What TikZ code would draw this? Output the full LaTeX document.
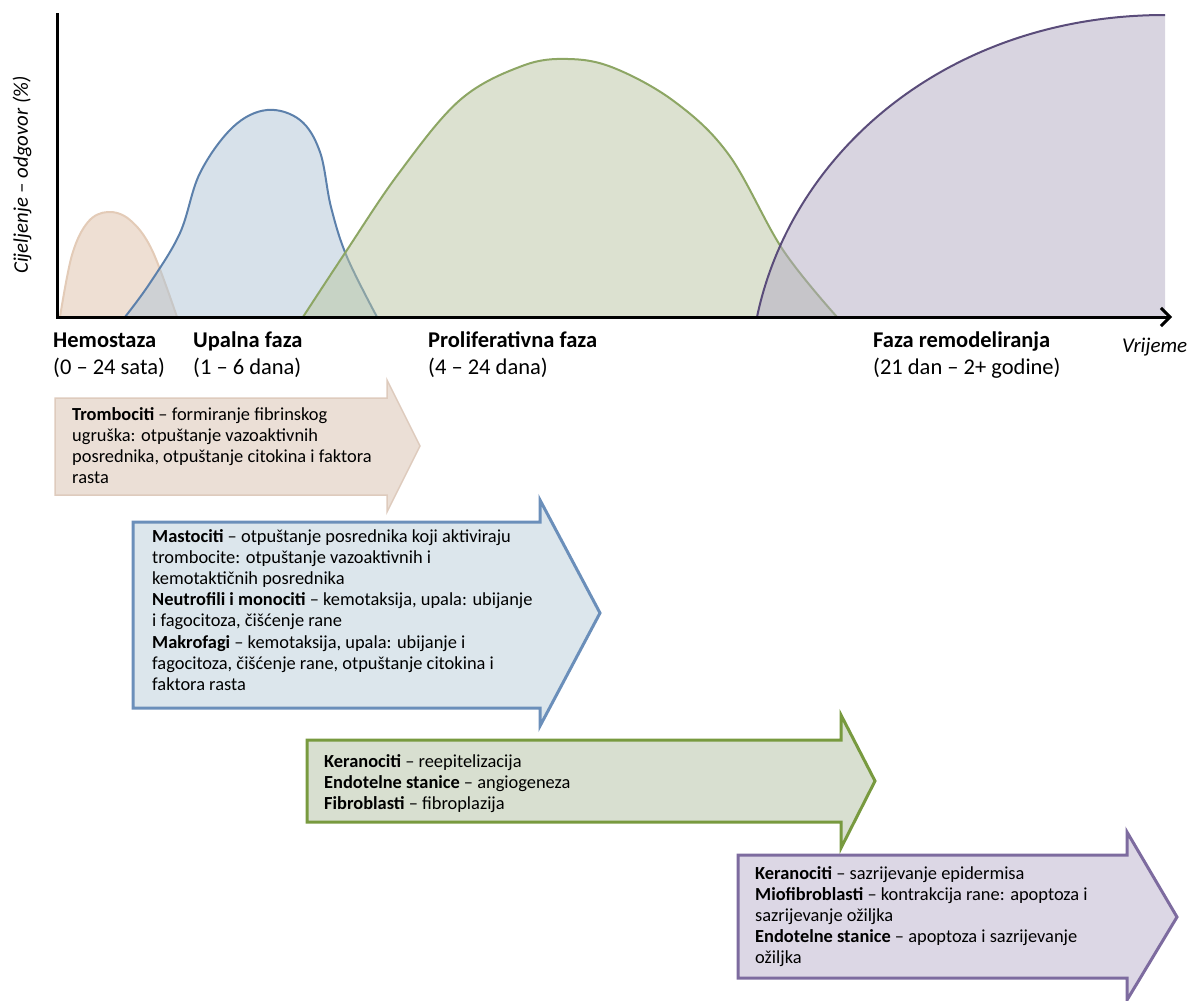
\documentclass[tikz,border=0pt]{standalone}
\usepackage{fontspec}
\setmainfont{Carlito}
\usetikzlibrary{arrows.meta}
\definecolor{tanline}{HTML}{E3CBB7}
\definecolor{tanfill}{HTML}{DDBFA8}
\definecolor{blueline}{HTML}{5C80AB}
\definecolor{bluefill}{HTML}{AFC4D6}
\definecolor{greenline}{HTML}{8DA664}
\definecolor{greenfill}{HTML}{B9C4A1}
\definecolor{purpleline}{HTML}{5A4C7A}
\definecolor{purplefill}{HTML}{B1A9C2}
\definecolor{tanbg}{HTML}{EBDFD6}
\definecolor{tanedge}{HTML}{DECBBD}
\definecolor{bluebg}{HTML}{DCE6EC}
\definecolor{blueedge}{HTML}{6B8FBA}
\definecolor{greenbg}{HTML}{D8DFD0}
\definecolor{greenedge}{HTML}{789A3F}
\definecolor{purplebg}{HTML}{DCD7E5}
\definecolor{purpleedge}{HTML}{7D6B9F}

\begin{document}
\begin{tikzpicture}[x=1pt,y=-1pt,>={Straight Barb[length=9pt,width=18pt]},
  lbl/.style={anchor=base west,inner sep=0pt,font=\fontsize{22.5}{26}\selectfont},
  boxtext/.style={anchor=north west,align=left,inner sep=0pt,font=\fontsize{18.4}{21.2}\selectfont}]
\useasboundingbox (0,0) rectangle (1203,1001);

% curves
\draw[tanline,line width=2pt,fill=tanfill,fill opacity=.5] plot[smooth,tension=.6] coordinates
  {(60,317) (72,255) (88,222) (108,212) (130,220) (152,250) (177,317)};
\draw[blueline,line width=2pt,fill=bluefill,fill opacity=.5] plot[smooth,tension=.6] coordinates
  {(125,317) (150,283) (180,233) (200,173) (233,127) (267,110) (300,120) (320,152) (331,207) (347,257) (377,317)};
\draw[greenline,line width=2pt,fill=greenfill,fill opacity=.5] plot[smooth,tension=.6] coordinates
  {(303,317) (345,253) (399,173) (460,100) (522,66) (568,59) (614,68) (675,102) (729,155) (783,250) (837,317)};
\coordinate (pstart) at (757,317);
\coordinate (pend) at (1165,15);
\fill[purplefill,fill opacity=.5] (pstart) .. controls (792,150) and (950,15) .. (pend) -- (1165,317) -- cycle;
\draw[purpleline,line width=2pt] (pstart) .. controls (792,150) and (950,15) .. (pend);

% axes
\coordinate (top) at (57,13);
\coordinate (O) at (57,317);
\coordinate (xend) at (1172,317);
\draw[line width=3pt,->] (top) -- (O) -- (xend);
\node[rotate=90,inner sep=0pt,font=\fontsize{20.8}{24}\selectfont\itshape] (ylab) at (22,175) {Cijeljenje – odgovor (\%)};
\node[lbl,font=\fontsize{21}{25}\selectfont\itshape] (vrij) at (1122,352) {Vrijeme};

% phase labels
\node[lbl] (hem) at (53,347) {\textbf{Hemostaza}};
\node[lbl] (hemt) at (53,374) {(0 – 24 sata)};
\node[lbl] (upa) at (193,347) {\textbf{Upalna faza}};
\node[lbl] (upat) at (193,374) {(1 – 6 dana)};
\node[lbl] (pro) at (428,347) {\textbf{Proliferativna faza}};
\node[lbl] (prot) at (428,374) {(4 – 24 dana)};
\node[lbl] (rem) at (873,347) {\textbf{Faza remodeliranja}};
\node[lbl] (remt) at (873,374) {(21 dan – 2+ godine)};

% phase arrows
\draw[tanedge,line width=1.5pt,fill=tanbg] (55,398) -- (387,398) -- (387,380) -- (420,446) -- (387,512) -- (387,495) -- (55,495) -- cycle;
\draw[blueedge,line width=3pt,fill=bluebg] (133,522) -- (540,522) -- (540,500) -- (600,613) -- (540,726) -- (540,708) -- (133,708) -- cycle;
\draw[greenedge,line width=3pt,fill=greenbg] (307,740) -- (841,740) -- (841,715) -- (875,781) -- (841,848) -- (841,822) -- (307,822) -- cycle;
\draw[purpleedge,line width=3pt,fill=purplebg] (738,855) -- (1127,855) -- (1127,832) -- (1177,917) -- (1127,1000) -- (1127,978) -- (738,978) -- cycle;

\node[boxtext] (trom) at (72,407) {\textbf{Trombociti} – formiranje fibrinskog\\
  ugruška: otpuštanje vazoaktivnih\\
  posrednika, otpuštanje citokina i faktora\\
  rasta};
\node[boxtext] (mast) at (152,529) {\textbf{Mastociti} – otpuštanje posrednika koji aktiviraju\\
  trombocite: otpuštanje vazoaktivnih i\\
  kemotaktičnih posrednika\\
  \textbf{Neutrofili i monociti} – kemotaksija, upala: ubijanje\\
  i fagocitoza, čišćenje rane\\
  \textbf{Makrofagi} – kemotaksija, upala: ubijanje i\\
  fagocitoza, čišćenje rane, otpuštanje citokina i\\
  faktora rasta};
\node[boxtext] (kera) at (324,754) {\textbf{Keranociti} – reepitelizacija\\
  \textbf{Endotelne stanice} – angiogeneza\\
  \textbf{Fibroblasti} – fibroplazija};
\node[boxtext] (zrel) at (755,866) {\textbf{Keranociti} – sazrijevanje epidermisa\\
  \textbf{Miofibroblasti} – kontrakcija rane: apoptoza i\\
  sazrijevanje ožiljka\\
  \textbf{Endotelne stanice} – apoptoza i sazrijevanje\\
  ožiljka};
\end{tikzpicture}
\end{document}
